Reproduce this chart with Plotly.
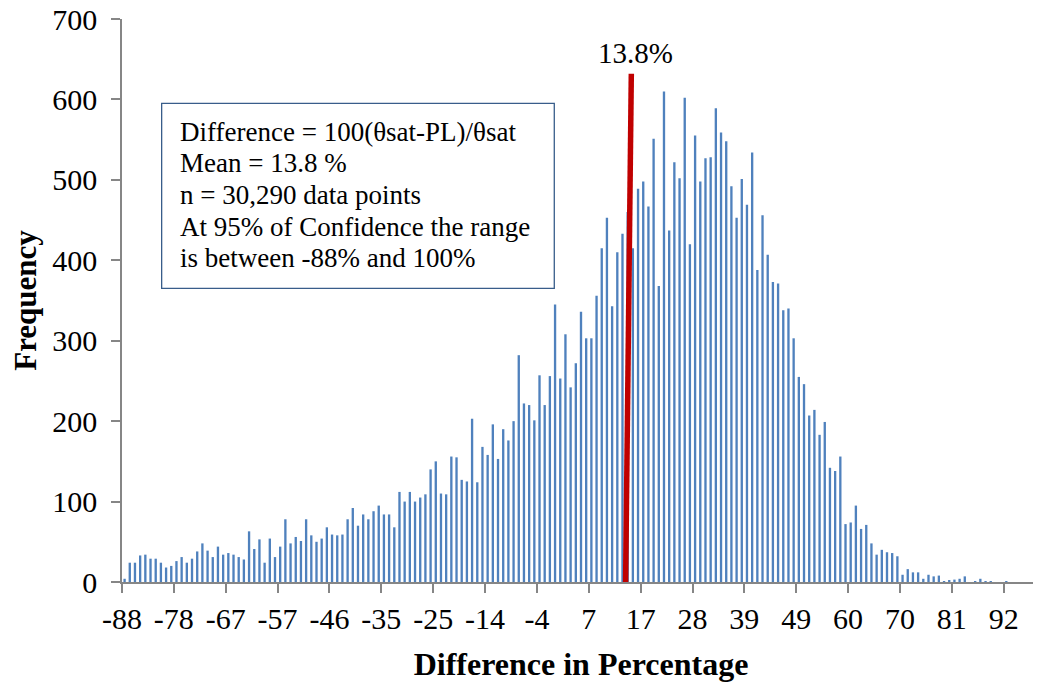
import plotly.graph_objects as go

# Histogram counts per bin (bins run from about -88% to 100%)
frequency = [
    4, 24, 24, 33, 34, 29, 29, 24, 18, 20,
    26, 31, 24, 29, 38, 48, 39, 31, 44, 34,
    36, 34, 31, 28, 63, 41, 53, 24, 54, 31,
    44, 78, 48, 56, 51, 78, 58, 50, 54, 68,
    59, 58, 59, 78, 92, 70, 84, 78, 88, 95,
    84, 84, 68, 112, 100, 112, 100, 105, 109, 140,
    150, 110, 109, 156, 155, 127, 125, 203, 124, 168,
    158, 196, 153, 190, 176, 200, 282, 222, 220, 201,
    257, 220, 256, 345, 253, 308, 242, 272, 336, 303,
    303, 356, 415, 453, 343, 410, 433, 460, 415, 489,
    498, 467, 551, 368, 610, 437, 522, 502, 602, 420,
    555, 498, 527, 528, 589, 559, 548, 492, 453, 501,
    469, 534, 388, 456, 407, 373, 371, 338, 340, 303,
    255, 246, 207, 214, 183, 199, 142, 138, 156, 72,
    74, 95, 66, 71, 48, 34, 40, 37, 36, 32,
    9, 16, 12, 12, 4, 9, 7, 8, 1, 2,
    3, 4, 7, 0, 1, 4, 1, 1, 0, 0,
    1, 0, 0, 0, 0, 0, 0,
]
bin_index = list(range(len(frequency)))

tick_labels = ["-88", "-78", "-67", "-57", "-46", "-35", "-25", "-14", "-4",
               "7", "17", "28", "39", "49", "60", "70", "81", "92"]
bins_per_label = 10

mean_pct = 13.8
mean_marker_x = [96.6, 97.7]   # in bin units, as drawn in the source
mean_marker_y = [0, 632]

info_lines = [
    "Difference = 100(θsat-PL)/θsat",
    "Mean = 13.8 %",
    "n = 30,290 data points",
    "At 95% of Confidence the range",
    "is between -88% and 100%",
]

tick_positions = [bins_per_label * k - 0.5 for k in range(len(tick_labels))]

FONT = "Liberation Serif"
AXIS_GREY = "#868686"

fig = go.Figure()
fig.add_trace(go.Bar(
    x=bin_index, y=frequency,
    marker=dict(color="#4F81BD", line=dict(width=0)),
    hoverinfo="x+y",
))
fig.add_trace(go.Scatter(
    x=mean_marker_x, y=mean_marker_y, mode="lines",
    line=dict(color="#C00000", width=5.5),
    hoverinfo="skip",
))

fig.add_annotation(
    x=sum(mean_marker_x) / 2 + 1.4, y=mean_marker_y[1],
    xref="x", yref="y", xanchor="center", yanchor="bottom",
    text=f"{mean_pct}%", showarrow=False, yshift=3,
    font=dict(family=FONT, size=29, color="black"),
)

# info box: frame + one text line per row
fig.add_shape(
    type="rect", xref="paper", yref="paper",
    x0=0.0432, x1=0.4709, y0=0.5217, y1=0.8503,
    line=dict(color="#385D8A", width=1.3), fillcolor="white", layer="above",
)
line_top = 0.7998
line_step = 0.05622
for i, txt in enumerate(info_lines):
    fig.add_annotation(
        x=0.0613, y=line_top - i * line_step, xref="paper", yref="paper",
        xanchor="left", yanchor="middle", text=txt, showarrow=False,
        font=dict(family=FONT, size=27, color="black"),
    )

fig.update_layout(
    width=1033, height=674,
    margin=dict(l=114, r=1, t=11, b=100, autoexpand=False),
    paper_bgcolor="white", plot_bgcolor="white",
    showlegend=False, bargap=0.55,
    font=dict(family=FONT, color="black"),
)
fig.update_xaxes(
    range=[-0.5, len(frequency) - 0.5], automargin=False,
    tickmode="array", tickvals=tick_positions, ticktext=tick_labels,
    showline=True, linecolor=AXIS_GREY, linewidth=1.5,
    ticks="outside", ticklen=9, tickcolor=AXIS_GREY, tickwidth=1.5,
    tickfont=dict(family=FONT, size=30, color="black"),
    ticklabelstandoff=0, ticklabeloverflow="allow",
    showgrid=False, zeroline=False,
    title=dict(text="<b>Difference in Percentage</b>",
               font=dict(family=FONT, size=32, color="black"), standoff=21),
)
fig.update_yaxes(
    range=[0, 700], dtick=100, tick0=0, automargin=False,
    showline=True, linecolor=AXIS_GREY, linewidth=1.5,
    ticks="outside", ticklen=9, tickcolor=AXIS_GREY, tickwidth=1.5,
    tickfont=dict(family=FONT, size=30, color="black"),
    ticklabelstandoff=8, ticklabeloverflow="allow",
    showgrid=False, zeroline=False,
    title=dict(text="<b>Frequency</b>",
               font=dict(family=FONT, size=31, color="black"), standoff=12),
)

fig.write_html("out.html")
